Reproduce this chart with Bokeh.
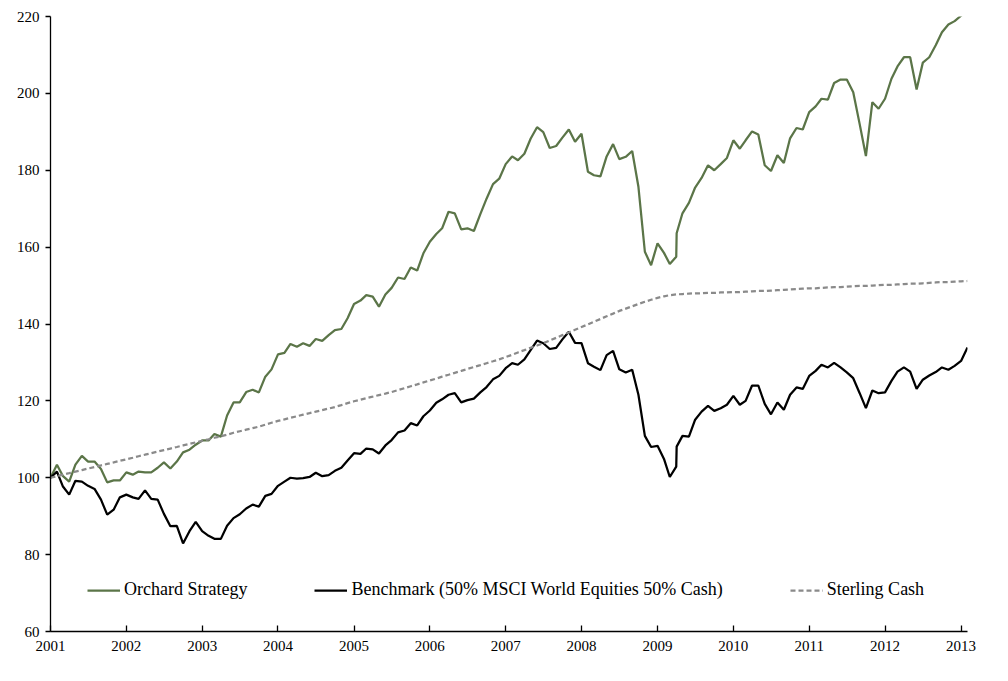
import pandas as pd
from bokeh.plotting import figure
from bokeh.models import Range1d, Legend, LegendItem, FixedTicker, DatetimeTickFormatter
from bokeh.embed import file_html
from bokeh.resources import INLINE

# Monthly dates Jan 2001 .. Feb 2013, plus one extra observation in April 2009
dates = list(pd.date_range("2001-01-01", periods=146, freq="MS"))
dates.insert(100, pd.Timestamp("2009-04-03"))

orchard = [
    100.0, 103.4, 100.5, 99.0, 103.4, 105.7, 104.2, 104.2, 102.3, 98.8, 99.3, 99.3,
    101.4, 100.8, 101.6, 101.4, 101.4, 102.6, 104.0, 102.4, 104.2, 106.6, 107.3, 108.6,
    109.7, 109.7, 111.4, 110.7, 116.2, 119.6, 119.6, 122.3, 122.9, 122.2, 126.3, 128.2,
    132.1, 132.5, 134.8, 134.1, 135.0, 134.3, 136.1, 135.6, 137.1, 138.4, 138.7, 141.5,
    145.2, 146.1, 147.5, 147.1, 144.5, 147.7, 149.4, 152.1, 151.7, 154.7, 153.9, 158.4,
    161.4, 163.4, 164.9, 169.2, 168.8, 164.6, 164.9, 164.2, 168.6, 172.6, 176.4, 177.8,
    181.6, 183.6, 182.6, 184.3, 188.2, 191.2, 189.9, 185.8, 186.3, 188.5, 190.6, 187.4,
    189.5, 179.6, 178.7, 178.4, 183.6, 186.8, 182.9, 183.5, 185.0, 175.7, 158.8, 155.3,
    161.0, 158.5, 155.6, 157.5, 163.6, 168.8, 171.5, 175.5, 178.0, 181.3, 180.0, 181.6, 183.2,
    187.8, 185.6, 187.8, 190.1, 189.3, 181.3, 179.8, 183.9, 181.9, 188.3, 191.0, 190.6,
    195.1, 196.6, 198.6, 198.4, 202.7, 203.6, 203.6, 200.3, 192.0, 183.7, 197.7, 196.0,
    198.6, 203.8, 207.0, 209.4, 209.4, 201.0, 208.0, 209.4, 212.5, 215.9, 217.9, 218.8,
    220.2, 222.0,
]

benchmark = [
    100.0, 101.6, 97.8, 95.6, 99.2, 99.0, 97.9, 97.1, 94.3, 90.4, 91.7, 94.9,
    95.6, 94.9, 94.5, 96.7, 94.5, 94.3, 90.6, 87.4, 87.5, 82.9, 86.1, 88.5,
    86.1, 84.9, 84.1, 84.1, 87.5, 89.5, 90.5, 92.0, 93.0, 92.5, 95.3, 95.8,
    97.9, 99.0, 100.0, 99.8, 99.9, 100.2, 101.3, 100.4, 100.7, 101.8, 102.6, 104.5,
    106.4, 106.2, 107.6, 107.4, 106.3, 108.4, 109.8, 111.8, 112.3, 114.2, 113.6, 116.0,
    117.5, 119.5, 120.4, 121.6, 122.0, 119.6, 120.2, 120.6, 122.2, 123.6, 125.6, 126.5,
    128.5, 129.8, 129.4, 130.8, 133.2, 135.7, 135.0, 133.5, 133.8, 136.0, 138.0, 135.1,
    135.0, 129.8, 128.9, 128.0, 131.9, 133.0, 128.2, 127.4, 128.1, 121.6, 110.9, 108.0,
    108.3, 104.9, 100.2, 102.9, 108.1, 110.9, 110.7, 115.1, 117.2, 118.7, 117.4, 118.1, 119.0,
    121.3, 119.0, 120.0, 124.0, 124.0, 119.2, 116.5, 119.6, 117.7, 121.6, 123.5, 123.1,
    126.5, 127.8, 129.4, 128.7, 129.9, 128.7, 127.4, 125.9, 122.0, 118.1, 122.7, 122.0,
    122.2, 125.2, 127.6, 128.7, 127.6, 123.1, 125.5, 126.6, 127.5, 128.7, 128.1, 129.1,
    130.4, 133.9,
]

sterling = [
    100.0, 100.4, 100.8, 101.2, 101.6, 102.0, 102.4, 102.8, 103.2, 103.6, 104.0, 104.4,
    104.8, 105.2, 105.6, 106.0, 106.4, 106.8, 107.2, 107.6, 108.0, 108.4, 108.8, 109.2,
    109.6, 110.0, 110.4, 110.8, 111.2, 111.7, 112.1, 112.5, 112.9, 113.3, 113.8, 114.3,
    114.8, 115.2, 115.6, 116.0, 116.4, 116.8, 117.2, 117.6, 118.0, 118.4, 118.9, 119.4,
    119.9, 120.3, 120.7, 121.1, 121.5, 121.9, 122.3, 122.8, 123.3, 123.8, 124.3, 124.8,
    125.3, 125.8, 126.3, 126.8, 127.3, 127.8, 128.3, 128.8, 129.3, 129.8, 130.3, 130.8,
    131.4, 132.0, 132.6, 133.2, 133.8, 134.4, 135.0, 135.7, 136.4, 137.1, 137.8, 138.5,
    139.2, 139.9, 140.6, 141.3, 142.0, 142.7, 143.4, 144.0, 144.6, 145.2, 145.8, 146.3,
    146.8, 147.2, 147.5, 147.7, 147.7, 147.8, 147.9, 148.0, 148.0, 148.1, 148.1, 148.2, 148.2,
    148.3, 148.3, 148.4, 148.5, 148.6, 148.6, 148.7, 148.8, 148.9, 149.0, 149.1, 149.2,
    149.3, 149.3, 149.4, 149.5, 149.6, 149.6, 149.7, 149.8, 149.9, 149.9, 150.0, 150.1,
    150.2, 150.2, 150.3, 150.4, 150.5, 150.5, 150.6, 150.7, 150.8, 150.9, 150.9, 151.0,
    151.1, 151.2,
]

year_ticks = list(range(2001, 2014))
y_ticks = [60, 80, 100, 120, 140, 160, 180, 200, 220]
labels = ["Orchard Strategy", "Benchmark (50% MSCI World Equities 50% Cash)", "Sterling Cash"]

FONT = "Liberation Serif"
GREEN = "#5b7548"
GREY = "#8a8a8a"

p = figure(
    x_axis_type="datetime",
    frame_width=917, frame_height=615,
    min_border_left=50, min_border_top=16, min_border_right=20, min_border_bottom=35,
    x_range=Range1d(pd.Timestamp("2001-01-01"), pd.Timestamp("2013-02-01")),
    y_range=Range1d(60, 220),
    output_backend="svg", toolbar_location=None,
)
p.outline_line_color = None
p.xgrid.visible = False
p.ygrid.visible = False

r1 = p.line(dates, orchard, line_color=GREEN, line_width=2.25)
r2 = p.line(dates, benchmark, line_color="black", line_width=2.25)
r3 = p.line(dates, sterling, line_color=GREY, line_width=2.25, line_dash="5 3")

tick_ms = [pd.Timestamp(f"{y}-01-01").value // 10**6 for y in year_ticks]
p.xaxis.ticker = FixedTicker(ticks=tick_ms)
p.xaxis.formatter = DatetimeTickFormatter(
    years="%Y", months="%Y", days="%Y", hours="%Y", minutes="%Y", seconds="%Y",
    milliseconds="%Y", microseconds="%Y", hourmin="%Y", minsec="%Y",
)
p.yaxis.ticker = FixedTicker(ticks=y_ticks)

for ax in (p.xaxis[0], p.yaxis[0]):
    ax.axis_line_color = "black"
    ax.axis_line_width = 1.3
    ax.major_tick_line_color = "black"
    ax.major_tick_line_width = 1.3
    ax.minor_tick_line_color = None
    ax.major_label_text_font = FONT
    ax.major_label_text_font_size = "15px"
    ax.major_label_text_color = "black"

p.xaxis.major_tick_in = 6
p.xaxis.major_tick_out = 0
p.xaxis.major_label_standoff = 9
p.yaxis.major_tick_in = 0
p.yaxis.major_tick_out = 5
p.yaxis.major_label_standoff = 6

legend = Legend(
    items=[LegendItem(label=labels[0], renderers=[r1]),
           LegendItem(label=labels[1], renderers=[r2]),
           LegendItem(label=labels[2], renderers=[r3])],
    orientation="horizontal",
    location=(37, 31),
    padding=0, margin=0, spacing=67,
    glyph_width=33, glyph_height=20, label_height=20, label_standoff=4,
    label_text_font=FONT, label_text_font_size="18px", label_text_color="black",
    border_line_alpha=0, background_fill_alpha=0,
)
p.add_layout(legend)

open("out.html", "w").write(file_html(p, INLINE))
